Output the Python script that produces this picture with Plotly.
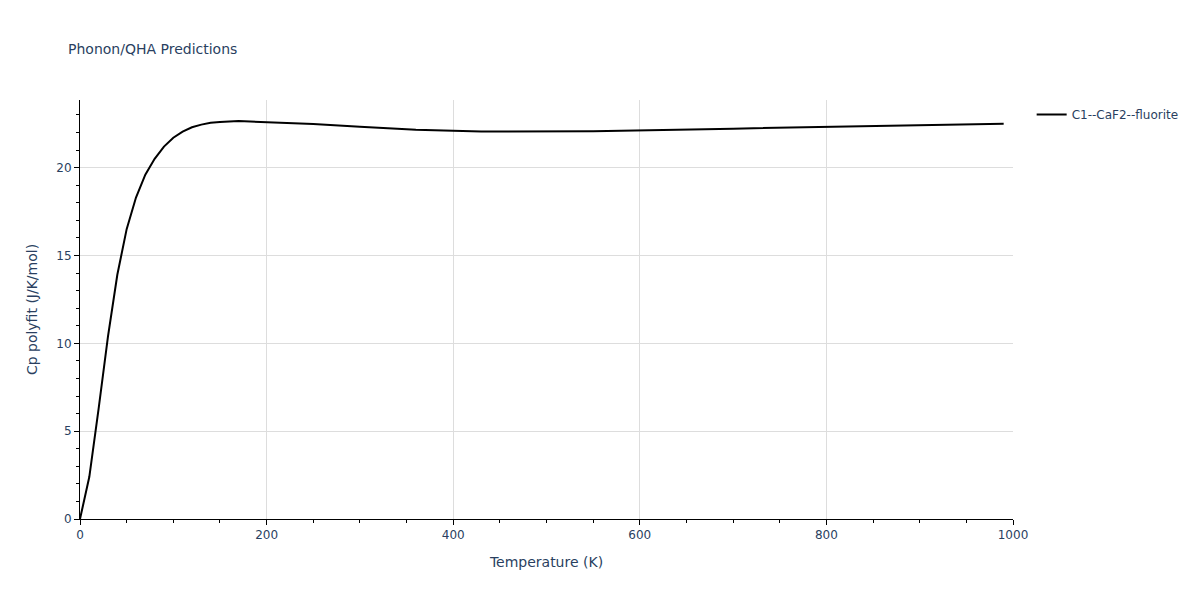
import plotly.graph_objects as go

temperature = [0, 10, 20, 30, 40, 50, 60, 70, 80, 90, 100, 110, 120, 130, 140, 150,
               170, 200, 250, 300, 360, 430, 550, 700, 800, 900, 990]
cp = [0, 2.4, 6.3, 10.4, 13.9, 16.5, 18.3, 19.6, 20.5, 21.2, 21.7, 22.05, 22.3, 22.45,
      22.55, 22.6, 22.65, 22.6, 22.48, 22.33, 22.15, 22.05, 22.07, 22.22, 22.32, 22.41, 22.5]

fig = go.Figure()
fig.add_trace(go.Scatter(x=temperature, y=cp, mode="lines", name="C1--CaF2--fluorite",
                         line=dict(color="black", width=2)))

fig.update_layout(
    width=1200, height=600,
    plot_bgcolor="white", paper_bgcolor="white",
    font=dict(family="DejaVu Sans", size=12, color="#2a3f5f"),
    title=dict(text="Phonon/QHA Predictions", font=dict(size=14), x=0.05),
    margin=dict(l=72, r=195, t=92, b=89),
    showlegend=True,
    legend=dict(x=1.02, y=1, xanchor="left", yanchor="top"),
)
fig.update_xaxes(title_text="Temperature (K)", range=[0, 1000], showline=True,
                 linecolor="black", ticks="outside", tickcolor="black",
                 gridcolor="#dddddd",
                 minor=dict(ticks="outside", dtick=50, tickcolor="black", ticklen=3),
                 zeroline=False)
fig.update_yaxes(title_text="Cp polyfit (J/K/mol)", range=[0, 23.85], showline=True,
                 linecolor="black", ticks="outside", tickcolor="black", dtick=5,
                 gridcolor="#dddddd",
                 minor=dict(ticks="outside", dtick=1, tickcolor="black", ticklen=3),
                 zeroline=False)

fig.write_html("out.html")
